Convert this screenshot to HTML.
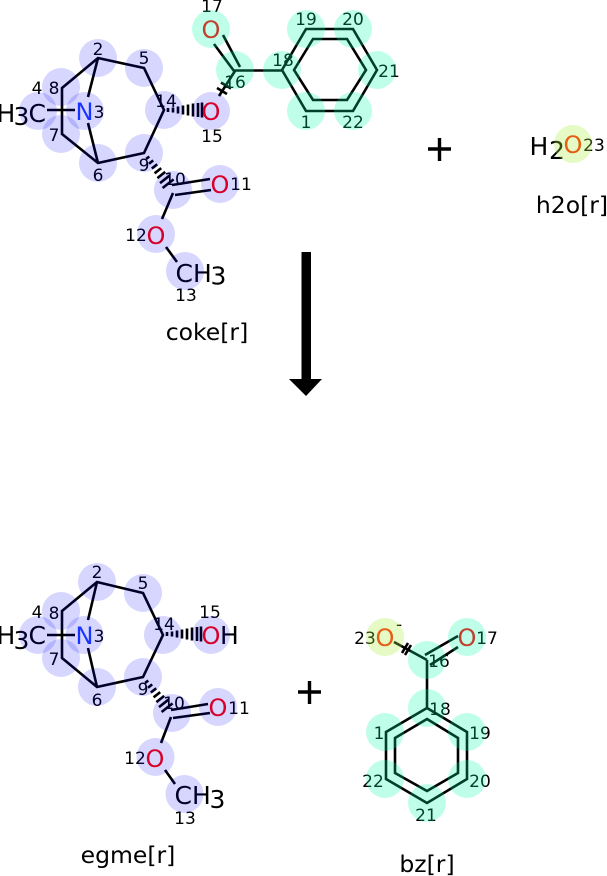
<!DOCTYPE html>
<html>
<head>
<meta charset="utf-8">
<style>
html,body{margin:0;padding:0;background:#fff;}
svg{display:block;}
text{font-family:"DejaVu Sans",sans-serif;}
.a{font-size:24px;text-anchor:middle;}
.b{font-size:25px;fill:#000;}
.l{font-size:17px;text-anchor:middle;fill:#000;}
.t{font-size:23.5px;text-anchor:middle;fill:#000;}
.bond{stroke:#000;stroke-width:2.6;fill:none;stroke-linejoin:miter;}
.hash{stroke:#000;stroke-width:2.6;fill:none;}
.p{fill:rgba(0,0,255,.16);}
.g{fill:rgba(0,255,170,.25);}
.y{fill:rgba(170,240,60,.3);}
</style>
</head>
<body>
<svg width="607" height="876" viewBox="0 0 607 876" xmlns="http://www.w3.org/2000/svg">
<!-- top left -->
<path class="bond" d="M62 88L98 58L144 68L164 110L144 153L98 163L62 134ZM98 58L88 97M88 123L98 163M47 110H75"/>
<path class="bond" d="M173 193L162 219M166 247L177 262M172 185L210 179M175 195L211 190M214 44L234 71M223 35L240 67M234 70.500H282M282 70L306 29H353L377 70L353 111H306ZM294 70L313 39H347L366 70L347 100H313Z"/>
<path class="hash" d="M168 108V112M173 107.500V112.500M178 106.500V113.500M183 105.500V114.500M188 104.500V115.500M193 103.500V116.500M198 103V117M202 102.500V117.500"/>
<path class="hash" d="M146.100 158.900L149.300 156.500M149 163.800L153.200 160.400M151.800 168.500L157.200 164.300M154.600 173.300L161.200 168.100M157.400 178.100L165.200 171.900M160 183.100L169.400 175.700M162.600 188L173.600 179.400"/>
<path class="bond" d="M235 71L219 96"/>
<path class="hash" d="M217 88L227 94M221 82.500L231 88.500"/>
<text class="a" x="211" y="120" fill="#ff0000">O</text>
<text class="a" x="211" y="38" fill="#ff0000">O</text>
<text class="a" x="84.500" y="120" fill="#2040ff">N</text>
<text class="a" x="220" y="193" fill="#ff0000">O</text>
<text class="a" x="156" y="244" fill="#ff0000">O</text>
<text class="b" x="-3.500" y="122">H</text><text class="b" x="13.500" y="125">3</text><text class="b" x="28.500" y="122">C</text>
<text class="b" x="175.500" y="282">CH</text><text class="b" x="210.500" y="284.500">3</text>
<text class="l" x="98" y="55">2</text><text class="l" x="144" y="64">5</text>
<text class="l" x="37" y="94">4</text><text class="l" x="54" y="94">8</text>
<text class="l" x="99" y="118">3</text><text class="l" x="54" y="141">7</text>
<text class="l" x="98" y="181">6</text><text class="l" x="144" y="171">9</text>
<text class="l" x="166" y="107">14</text><text class="l" x="212" y="142">15</text>
<text class="l" x="175" y="185">10</text><text class="l" x="241" y="190">11</text>
<text class="l" x="136" y="241">12</text><text class="l" x="186" y="301">13</text>
<text class="l" x="212" y="12">17</text><text class="l" x="235" y="88">16</text>
<text class="l" x="283" y="66">18</text><text class="l" x="306" y="25">19</text>
<text class="l" x="353" y="25">20</text><text class="l" x="389" y="77">21</text>
<text class="l" x="353" y="128">22</text><text class="l" x="306" y="128">1</text>
<text class="t" x="207" y="340">coke[r]</text>
<!-- plus and water -->
<path d="M428 149H451M439.500 138V161" stroke="#000" stroke-width="3.400" fill="none"/>
<text class="b" x="529.500" y="155">H</text><text class="b" x="549" y="159">2</text>
<text class="a" x="573" y="153" fill="#ff2000">O</text>
<text class="l" x="594" y="151">23</text>
<text class="t" x="572" y="213">h2o[r]</text>
<!-- arrow -->
<path d="M301.500 252H311V379H322L306 396L289 379H301.500Z" fill="#000"/>
<!-- bottom left -->
<path class="bond" d="M62 611L97 582L143 593L163 635L143 677L97 687L62 658ZM97 582L88 620M88 648L97 687M47 635H75"/>
<path class="bond" d="M171 717L161 743M165 770L175 784M171 710L208 704M173 718L210 713"/>
<path class="hash" d="M167 632V636M172 631.500V636.500M177 630.500V637.500M182 629.500V638.500M187 628.500V639.500M192 627.500V640.500M197 627V641M201 626.500V641.500" transform="translate(0,0)"/>
<path class="hash" transform="translate(-1,524)" d="M146.100 158.900L149.300 156.500M149 163.800L153.200 160.400M151.800 168.500L157.200 164.300M154.600 173.300L161.200 168.100M157.400 178.100L165.200 171.900M160 183.100L169.400 175.700M162.600 188L173.600 179.400"/>
<text class="a" x="211" y="644" fill="#ff0000">O</text><text class="b" x="220" y="644">H</text>
<text class="a" x="84.500" y="644" fill="#2040ff">N</text>
<text class="a" x="218" y="716" fill="#ff0000">O</text>
<text class="a" x="155" y="767" fill="#ff0000">O</text>
<text class="b" x="-3.500" y="644">H</text><text class="b" x="13.500" y="649">3</text><text class="b" x="28.500" y="644">C</text>
<text class="b" x="174.500" y="804">CH</text><text class="b" x="209.500" y="808">3</text>
<text class="l" x="97" y="578">2</text><text class="l" x="143" y="589">5</text>
<text class="l" x="37" y="618">4</text><text class="l" x="54" y="619">8</text>
<text class="l" x="99" y="642">3</text><text class="l" x="54" y="665">7</text>
<text class="l" x="97" y="706">6</text><text class="l" x="143" y="695">9</text>
<text class="l" x="164" y="630">14</text><text class="l" x="210" y="618">15</text>
<text class="l" x="174" y="709">10</text><text class="l" x="239" y="714">11</text>
<text class="l" x="135" y="764">12</text><text class="l" x="185" y="824">13</text>
<text class="t" x="128" y="863">egme[r]</text>
<path d="M298 692H321M309.500 681V704" stroke="#000" stroke-width="3.400" fill="none"/>
<!-- benzoate -->
<path class="bond" d="M427 660V708L467 732V779L427 803L386 779V732L427 708M427 719L458 738V773L427 791L395 773V738ZM394 642L427 660M425 655L458 636M430 665L458 647"/>
<path class="hash" d="M402 653L408 643M405 655L411 645"/>
<text class="a" x="385" y="646" fill="#ff2000">O</text>
<text class="a" x="467" y="646" fill="#ff0000">O</text>
<text x="396" y="630" font-size="17" fill="#000">-</text>
<text class="l" x="365" y="644">23</text><text class="l" x="487" y="644">17</text>
<text class="l" x="439" y="667">16</text><text class="l" x="440" y="715">18</text>
<text class="l" x="379" y="739">1</text><text class="l" x="480" y="739">19</text>
<text class="l" x="373" y="787">22</text><text class="l" x="480" y="787">20</text>
<text class="l" x="426" y="821">21</text>
<text class="t" x="427" y="872">bz[r]</text>
<!-- highlight circles -->
<g class="p">
<circle cx="98" cy="58" r="19"/><circle cx="144" cy="68" r="19"/><circle cx="164" cy="110" r="19"/><circle cx="144" cy="153" r="19"/><circle cx="98" cy="163" r="19"/><circle cx="61" cy="134" r="19"/><circle cx="61" cy="87" r="19"/><circle cx="85" cy="111" r="19"/><circle cx="38" cy="111" r="19"/><circle cx="211" cy="111" r="19"/><circle cx="173" cy="190" r="19"/><circle cx="220" cy="184" r="19"/><circle cx="156" cy="234" r="19"/><circle cx="185" cy="271" r="19"/>
<circle cx="97" cy="582" r="19"/><circle cx="143" cy="593" r="19"/><circle cx="163" cy="635" r="19"/><circle cx="143" cy="677" r="19"/><circle cx="97" cy="687" r="19"/><circle cx="61" cy="658" r="19"/><circle cx="61" cy="611" r="19"/><circle cx="84.500" cy="635" r="19"/><circle cx="38" cy="635" r="19"/><circle cx="211" cy="635" r="19"/><circle cx="172" cy="713" r="19"/><circle cx="218" cy="707" r="19"/><circle cx="155.500" cy="757" r="19"/><circle cx="184.500" cy="794" r="19"/>
</g>
<g class="g">
<circle cx="211" cy="29" r="19"/><circle cx="235" cy="70" r="19"/><circle cx="282" cy="70" r="19"/><circle cx="306" cy="29" r="19"/><circle cx="353" cy="29" r="19"/><circle cx="377" cy="70" r="19"/><circle cx="353" cy="111" r="19"/><circle cx="306" cy="111" r="19"/>
<circle cx="467" cy="637" r="19"/><circle cx="427" cy="660" r="19"/><circle cx="427" cy="708" r="19"/><circle cx="467" cy="732" r="19"/><circle cx="467" cy="779" r="19"/><circle cx="427" cy="803" r="19"/><circle cx="385" cy="779" r="19"/><circle cx="385" cy="732" r="19"/>
</g>
<g class="y">
<circle cx="573" cy="144" r="19"/><circle cx="385" cy="637" r="19"/>
</g>
</svg>
</body>
</html>
